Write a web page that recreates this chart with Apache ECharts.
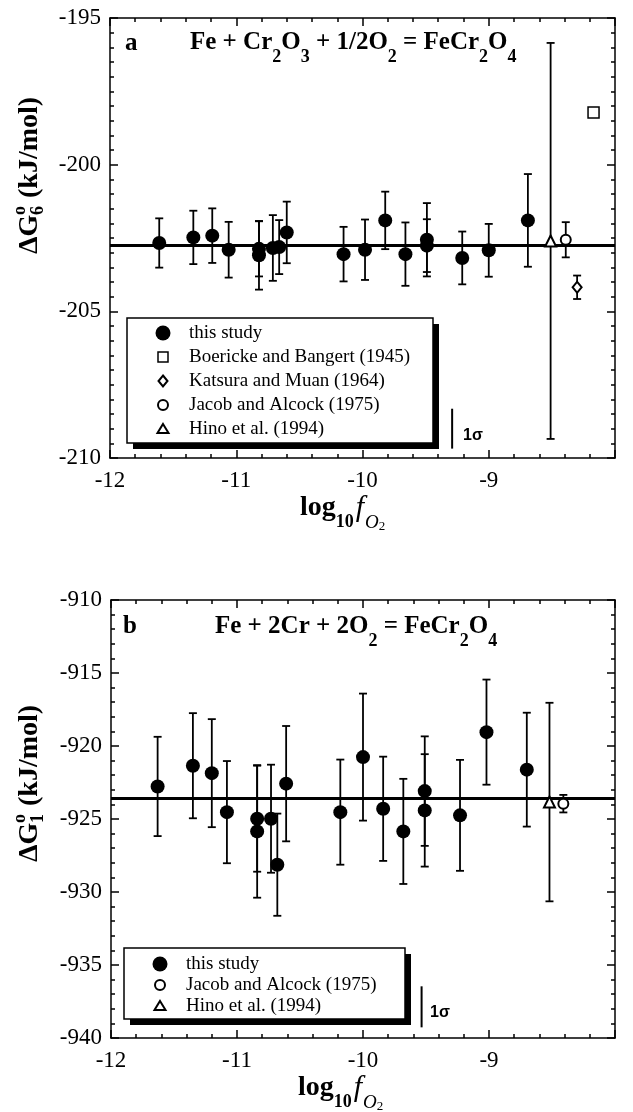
<!DOCTYPE html>
<html>
<head>
<meta charset="utf-8">
<script src="https://cdn.jsdelivr.net/npm/echarts@6/dist/echarts.min.js"></script>
<style>
html, body { margin: 0; padding: 0; background: #fff; }
#chart { width: 633px; height: 1112px; }
</style>
</head>
<body>
<div id="chart"></div>
<script>
var serif = '"Liberation Serif", "Times New Roman", serif';
var sans = '"Liberation Sans", Arial, sans-serif';

// ---- panel a : Fe + Cr2O3 + 1/2O2 = FeCr2O4
var aX   = [-11.61, -11.34, -11.19, -11.06, -10.82, -10.82, -10.71, -10.66, -10.60, -10.15, -9.98, -9.82, -9.66, -9.49, -9.49, -9.21, -9.00, -8.69];
var aY   = [-202.67, -202.48, -202.42, -202.90, -202.87, -203.09, -202.84, -202.81, -202.31, -203.05, -202.90, -201.90, -203.05, -202.56, -202.76, -203.18, -202.92, -201.90];
var aErr = [0.84, 0.91, 0.93, 0.95, 0.94, 1.17, 1.12, 0.92, 1.05, 0.93, 1.03, 0.98, 1.08, 1.25, 0.9, 0.9, 0.9, 1.58];
var aBoericke = [[-8.17, -198.22]];
var aKatsura  = [[-8.30, -204.18, 0.4]];
var aJacob    = [[-8.39, -202.56, 0.6]];
var aHino     = [[-8.51, -202.60, 6.75]];
var aFit = -202.75;
var aSigma = [[-9.29, -208.32], [-9.29, -209.68]];
var aLegend = ['this study', 'Boericke and Bangert (1945)', 'Katsura and Muan (1964)', 'Jacob and Alcock (1975)', 'Hino et al. (1994)'];

// ---- panel b : Fe + 2Cr + 2O2 = FeCr2O4
var bX   = [-11.63, -11.35, -11.20, -11.08, -10.84, -10.84, -10.73, -10.68, -10.61, -10.18, -10.00, -9.84, -9.68, -9.51, -9.51, -9.23, -9.02, -8.70];
var bY   = [-922.77, -921.35, -921.86, -924.53, -924.98, -925.85, -924.98, -928.13, -922.58, -924.53, -920.76, -924.30, -925.85, -923.09, -924.41, -924.75, -919.05, -921.62];
var bErr = [3.4, 3.6, 3.7, 3.5, 3.63, 4.54, 3.7, 3.5, 3.95, 3.6, 4.35, 3.57, 3.6, 3.75, 3.85, 3.8, 3.6, 3.9];
var bJacob = [[-8.41, -923.95, 0.6]];
var bHino  = [[-8.52, -923.84, 6.8]];
var bFit = -923.55;
var bSigma = [[-9.535, -936.46], [-9.535, -939.27]];
var bLegend = ['this study', 'Jacob and Alcock (1975)', 'Hino et al. (1994)'];

var xTicks = [-12, -11, -10, -9];

function points(xs, ys, es) {
    return xs.map(function (x, i) { return [x, ys[i], es[i]]; });
}

function renderBar(params, api) {
    var x = api.value(0), y = api.value(1), e = api.value(2);
    var hi = api.coord([x, y + e]);
    var lo = api.coord([x, y - e]);
    var st = { stroke: '#000', lineWidth: 1.8 };
    return {
        type: 'group',
        children: [
            { type: 'line', shape: { x1: hi[0], y1: hi[1], x2: lo[0], y2: lo[1] }, style: st },
            { type: 'line', shape: { x1: hi[0] - 4, y1: hi[1], x2: hi[0] + 4, y2: hi[1] }, style: st },
            { type: 'line', shape: { x1: lo[0] - 4, y1: lo[1], x2: lo[0] + 4, y2: lo[1] }, style: st }
        ]
    };
}

var tickStyle = { color: '#000', width: 1.5 };

function xAxesFor(g) {
    var base = {
        gridIndex: g, type: 'value', min: -12, max: -8, interval: 1,
        axisLine: { show: true, onZero: false, lineStyle: { color: '#000', width: 1.5 } },
        splitLine: { show: false },
        axisTick: { show: true, inside: true, length: 8, lineStyle: tickStyle },
        minorTick: { show: true, splitNumber: 5, length: 4, lineStyle: tickStyle }
    };
    var bottom = echarts.util.merge({
        position: 'bottom',
        axisLabel: {
            fontFamily: serif, fontSize: 23, color: '#000', margin: 11,
            formatter: function (v) { return xTicks.indexOf(v) >= 0 ? String(v) : ''; }
        }
    }, base, true);
    var top = echarts.util.merge({ position: 'top', axisLabel: { show: false } }, base, true);
    return [bottom, top];
}

function yAxesFor(g, min, max, minorSplit) {
    var base = {
        gridIndex: g, type: 'value', min: min, max: max, interval: 5,
        axisLine: { show: true, onZero: false, lineStyle: { color: '#000', width: 1.5 } },
        splitLine: { show: false },
        axisTick: { show: true, inside: true, length: 8, lineStyle: tickStyle },
        minorTick: { show: true, splitNumber: minorSplit, length: 4, lineStyle: tickStyle }
    };
    var left = echarts.util.merge({
        position: 'left',
        axisLabel: { fontFamily: serif, fontSize: 23, color: '#000', margin: 9 }
    }, base, true);
    var right = echarts.util.merge({ position: 'right', axisLabel: { show: false } }, base, true);
    return [left, right];
}

var hollow = { color: '#fff', borderColor: '#000', borderWidth: 2, opacity: 1 };

function seriesFor(g, study, fit, sigma, extra) {
    var xi = g * 2, yi = g * 2;
    var list = [];
    list.push({ type: 'custom', name: 'bars', xAxisIndex: xi, yAxisIndex: yi, data: study, renderItem: renderBar, encode: { x: 0, y: 1 }, silent: true, z: 2 });
    extra.forEach(function (s) {
        if (s.data[0].length > 2) {
            list.push({ type: 'custom', name: 'bars', xAxisIndex: xi, yAxisIndex: yi, data: s.data, renderItem: renderBar, encode: { x: 0, y: 1 }, silent: true, z: 2 });
        }
    });
    list.push({
        type: 'scatter', name: 'this study', xAxisIndex: xi, yAxisIndex: yi, data: study,
        symbol: 'circle', symbolSize: 14, itemStyle: { color: '#000', opacity: 1 }, z: 4,
        markLine: {
            silent: true, symbol: 'none', label: { show: false },
            lineStyle: { color: '#000', width: 3, type: 'solid' },
            data: [{ yAxis: fit }]
        }
    });
    extra.forEach(function (s) {
        list.push({
            type: 'scatter', name: s.name, xAxisIndex: xi, yAxisIndex: yi, data: s.data,
            symbol: s.symbol, symbolSize: s.size, itemStyle: echarts.util.extend({}, s.style || hollow), z: 5
        });
    });
    list.push({
        type: 'line', name: '1σ', xAxisIndex: xi, yAxisIndex: yi, data: sigma,
        symbol: 'none', lineStyle: { color: '#000', width: 2 }, silent: true
    });
    return list;
}

var series = seriesFor(0, points(aX, aY, aErr), aFit, aSigma, [
    { name: aLegend[1], data: aBoericke, symbol: 'rect', size: 11, style: { color: '#fff', borderColor: '#000', borderWidth: 1.5, opacity: 1 } },
    { name: aLegend[2], data: aKatsura, symbol: 'diamond', size: [9, 11] },
    { name: aLegend[3], data: aJacob, symbol: 'circle', size: 10 },
    { name: aLegend[4], data: aHino, symbol: 'triangle', size: 11 }
]).concat(seriesFor(1, points(bX, bY, bErr), bFit, bSigma, [
    { name: bLegend[1], data: bJacob, symbol: 'circle', size: 10 },
    { name: bLegend[2], data: bHino, symbol: 'triangle', size: 11 }
]));

// ---------- text and legend decorations
function panelTitle(x, top, text) {
    return {
        type: 'text', x: x, y: top, silent: true,
        style: {
            text: text, verticalAlign: 'top', align: 'left',
            rich: {
                n: { fontFamily: serif, fontWeight: 'bold', fontSize: 25, lineHeight: 46, fill: '#000' },
                s: { fontFamily: serif, fontWeight: 'bold', fontSize: 18, lineHeight: 18, padding: [28, 0, 0, 0], fill: '#000' }
            }
        }
    };
}

function letter(x, y, t) {
    return { type: 'text', x: x, y: y, silent: true,
        style: { text: t, fontFamily: serif, fontWeight: 'bold', fontSize: 25, fill: '#000', verticalAlign: 'middle' } };
}

function xTitle(x, top) {
    return {
        type: 'text', x: x, y: top, silent: true,
        style: {
            text: '{n|log}{s|10}{i|f}{o|O}{t|2}', verticalAlign: 'top',
            rich: {
                n: { fontFamily: serif, fontWeight: 'bold', fontSize: 28, lineHeight: 50, fill: '#000' },
                s: { fontFamily: serif, fontWeight: 'bold', fontSize: 18, lineHeight: 18, padding: [29, 0, 0, 0], fill: '#000' },
                i: { fontFamily: serif, fontStyle: 'italic', fontSize: 30, lineHeight: 50, fill: '#000', padding: [0, 1, 0, 2] },
                o: { fontFamily: serif, fontStyle: 'italic', fontSize: 19, lineHeight: 19, padding: [29, 0, 0, 0], fill: '#000' },
                t: { fontFamily: serif, fontSize: 13, lineHeight: 13, padding: [38, 0, 0, 0], fill: '#000' }
            }
        }
    };
}

function yTitle(cx, cy, idx) {
    var f = { fontFamily: serif, fontWeight: 'bold', fill: '#000', verticalAlign: 'middle', align: 'left' };
    function t(x, y, s, size) {
        return { type: 'text', x: x, y: y, style: echarts.util.extend({ text: s, fontSize: size }, f) };
    }
    return {
        type: 'group', x: cx, y: cy, rotation: Math.PI / 2, silent: true,
        children: [
            t(-80, 0, 'ΔG', 28),
            t(-41, -10, 'o', 18),
            t(-41, 8, idx, 18),
            t(-24, 0, '(kJ/mol)', 28)
        ]
    };
}

function icon(kind, cx, cy) {
    var st = { fill: '#fff', stroke: '#000', lineWidth: 2 };
    if (kind === 'dot') return { type: 'circle', shape: { cx: cx, cy: cy, r: 7.5 }, style: { fill: '#000' } };
    if (kind === 'square') return { type: 'rect', shape: { x: cx - 5, y: cy - 5, width: 10, height: 10 }, style: { fill: '#fff', stroke: '#000', lineWidth: 1.5 } };
    if (kind === 'diamond') return { type: 'polygon', shape: { points: [[cx, cy - 5.5], [cx + 4.5, cy], [cx, cy + 5.5], [cx - 4.5, cy]] }, style: st };
    if (kind === 'ring') return { type: 'circle', shape: { cx: cx, cy: cy, r: 5 }, style: st };
    return { type: 'polygon', shape: { points: [[cx, cy - 5], [cx + 5.5, cy + 4], [cx - 5.5, cy + 4]] }, style: st };
}

function legendBox(x, y, w, h, names, kinds, row0, gap) {
    var kids = [
        { type: 'rect', shape: { x: x + 6, y: y + 6, width: w, height: h }, style: { fill: '#000' } },
        { type: 'rect', shape: { x: x, y: y, width: w, height: h }, style: { fill: '#fff', stroke: '#000', lineWidth: 1.5 } }
    ];
    names.forEach(function (n, i) {
        var cy = row0 + gap * i;
        kids.push(icon(kinds[i], x + 36, cy));
        kids.push({ type: 'text', x: x + 62, y: cy, style: { text: n, fontFamily: serif, fontSize: 19, fill: '#000', verticalAlign: 'middle' } });
    });
    return { type: 'group', silent: true, children: kids };
}

function sigmaText(x, y) {
    return { type: 'text', x: x, y: y, silent: true,
        style: { text: '1σ', fontFamily: sans, fontWeight: 'bold', fontSize: 16, fill: '#000', verticalAlign: 'middle' } };
}

var graphic = [
    letter(125, 44, 'a'),
    panelTitle(190, 20, '{n|Fe + Cr}{s|2}{n|O}{s|3}{n| + 1/2O}{s|2}{n| = FeCr}{s|2}{n|O}{s|4}'),
    yTitle(30, 174, '6'),
    xTitle(300, 483),
    legendBox(127, 318, 306, 125, aLegend, ['dot', 'square', 'diamond', 'ring', 'tri'], 333, 24),
    sigmaText(463, 436),

    letter(123, 627, 'b'),
    panelTitle(215, 604, '{n|Fe + 2Cr + 2O}{s|2}{n| = FeCr}{s|2}{n|O}{s|4}'),
    yTitle(30, 782, '1'),
    xTitle(298, 1063),
    legendBox(124, 948, 281, 71, bLegend, ['dot', 'ring', 'tri'], 964, 21),
    sigmaText(430, 1013)
];

var myChart = echarts.init(document.getElementById('chart'));
var option = {
    backgroundColor: '#fff',
    animation: false,
    grid: [
        { left: 110, right: 18, top: 18, height: 440 },
        { left: 111, right: 18, top: 600, height: 438 }
    ],
    xAxis: xAxesFor(0).concat(xAxesFor(1)),
    yAxis: yAxesFor(0, -210, -195, 10).concat(yAxesFor(1, -940, -910, 5)),
    series: series,
    graphic: graphic
};
myChart.setOption(option);
</script>
</body>
</html>
